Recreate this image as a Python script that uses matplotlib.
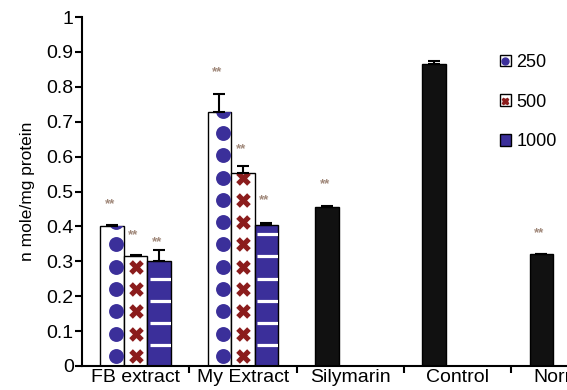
import numpy as np
import matplotlib
matplotlib.use('Agg')
import matplotlib.pyplot as plt
from matplotlib.patches import Patch
from matplotlib.lines import Line2D
from matplotlib.legend_handler import HandlerTuple

plt.rcParams.update({
    'font.family': 'sans-serif',
    'font.sans-serif': ['Liberation Sans', 'DejaVu Sans'],
})

groups = ['FB extract', 'My Extract', 'Silymarin', 'Control', 'Normal']
doses = ['250', '500', '1000']

# dose groups (250, 500, 1000)
fb_means = [0.401, 0.315, 0.300]
fb_err = [0.003, 0.004, 0.033]
my_means = [0.728, 0.552, 0.405]
my_err = [0.050, 0.022, 0.005]
fb_stars = [0.465, 0.375, 0.355]
my_stars = [0.842, 0.620, 0.475]

# single-bar groups (Silymarin, Control, Normal)
single_means = [0.455, 0.865, 0.320]
single_err = [0.003, 0.008, 0.002]
single_stars = [0.521, None, 0.381]

BLUE = '#3b2f9a'
RED = '#8b1c1c'
STAR = '#a0887a'

fig = plt.figure(figsize=(5.67, 3.90), dpi=100)
ax = fig.add_axes([82/567, 24/390, 536.5/567, 349/390])

w = 0.219
row0, drow = 0.0287, 0.0639

def pattern(bar, kind):
    x0 = bar.get_x(); bw = bar.get_width(); top = bar.get_height()
    rows = row0 + drow*np.arange(int(top/drow) + 2)
    if kind == 0:
        sc = ax.scatter(np.full(len(rows), x0 + 0.66*bw), rows, s=115,
                        marker='o', color=BLUE, linewidths=0, zorder=3)
        sc.set_clip_path(bar)
    elif kind == 1:
        sc = ax.scatter(np.full(len(rows), x0 + 0.5*bw), rows, s=110,
                        marker='X', color=RED, linewidths=0, zorder=3)
        sc.set_clip_path(bar)
    else:
        for yy in rows + drow/2 - 0.0017:
            if yy < top - 0.01:
                ln = ax.plot([x0 + 0.1*bw, x0 + bw], [yy, yy], color='white',
                             lw=2.3, zorder=3, solid_capstyle='butt')[0]
                ln.set_clip_path(bar)

for gi, (means, errs, stars) in enumerate([(fb_means, fb_err, fb_stars),
                                            (my_means, my_err, my_stars)]):
    for k in range(3):
        xc = gi + (k - 1)*w
        fc = BLUE if k == 2 else 'white'
        b = ax.bar(xc, means[k], width=w, color=fc, edgecolor='black',
                   linewidth=1.0, zorder=2)[0]
        pattern(b, k)
        ax.errorbar(xc, means[k], yerr=[[0], [errs[k]]], color='black',
                    capsize=4, elinewidth=1.5, capthick=1.5, zorder=4)
        ax.text(xc - 0.02, stars[k], '**', ha='center', va='center',
                fontsize=9.5, color=STAR, fontweight='bold')

for j, (m, e, s) in enumerate(zip(single_means, single_err, single_stars)):
    xc = 2 + j - w
    ax.bar(xc, m, width=w, color='#111111', edgecolor='black', linewidth=1.0,
           zorder=2)
    ax.errorbar(xc, m, yerr=[[0], [e]], color='black', capsize=4,
                elinewidth=1.5, capthick=1.5, zorder=4)
    if s is not None:
        ax.text(xc - 0.02, s, '**', ha='center', va='center', fontsize=9.5,
                color=STAR, fontweight='bold')

ax.set_xlim(-0.5, 4.5)
ax.set_ylim(0, 1)
ax.set_yticks(np.arange(0, 1.01, 0.1))
ax.set_yticklabels(['0'] + [f'{v:.1f}' for v in np.arange(0.1, 0.95, 0.1)] + ['1'],
                   fontsize=14)
ax.set_xticks(np.arange(0.5, 4.6, 1.0))
ax.set_xticklabels([])
ax.set_xticks(np.arange(len(groups)), minor=True)
ax.set_xticklabels(groups, minor=True, fontsize=14)
ax.tick_params(axis='x', which='minor', length=0, pad=2)
ax.tick_params(axis='x', which='major', length=5, width=1.5, direction='out')
ax.tick_params(axis='y', length=5, width=1.5, direction='out', pad=1)
for sp in ['top', 'right']:
    ax.spines[sp].set_visible(False)
for sp in ['left', 'bottom']:
    ax.spines[sp].set_linewidth(1.5)
ax.set_ylabel('n mole/mg protein', fontsize=12.5, labelpad=8)

handles = [
    (Patch(facecolor='white', edgecolor='black', lw=1.0),
     Line2D([0], [0], marker='o', color=BLUE, ls='None', markersize=5)),
    (Patch(facecolor='white', edgecolor='black', lw=1.0),
     Line2D([0], [0], marker='X', color=RED, ls='None', markersize=5)),
    (Patch(facecolor=BLUE, edgecolor='black', lw=1.0),),
]
fig.legend(handles, doses, loc='upper left', bbox_to_anchor=(500/567, 1 - 54/390),
           frameon=False, fontsize=13, handlelength=0.6, handleheight=0.6,
           handletextpad=0.3, labelspacing=1.25, borderpad=0, borderaxespad=0,
           handler_map={tuple: HandlerTuple(ndivide=1)})

fig.savefig('out.png', dpi=100)
